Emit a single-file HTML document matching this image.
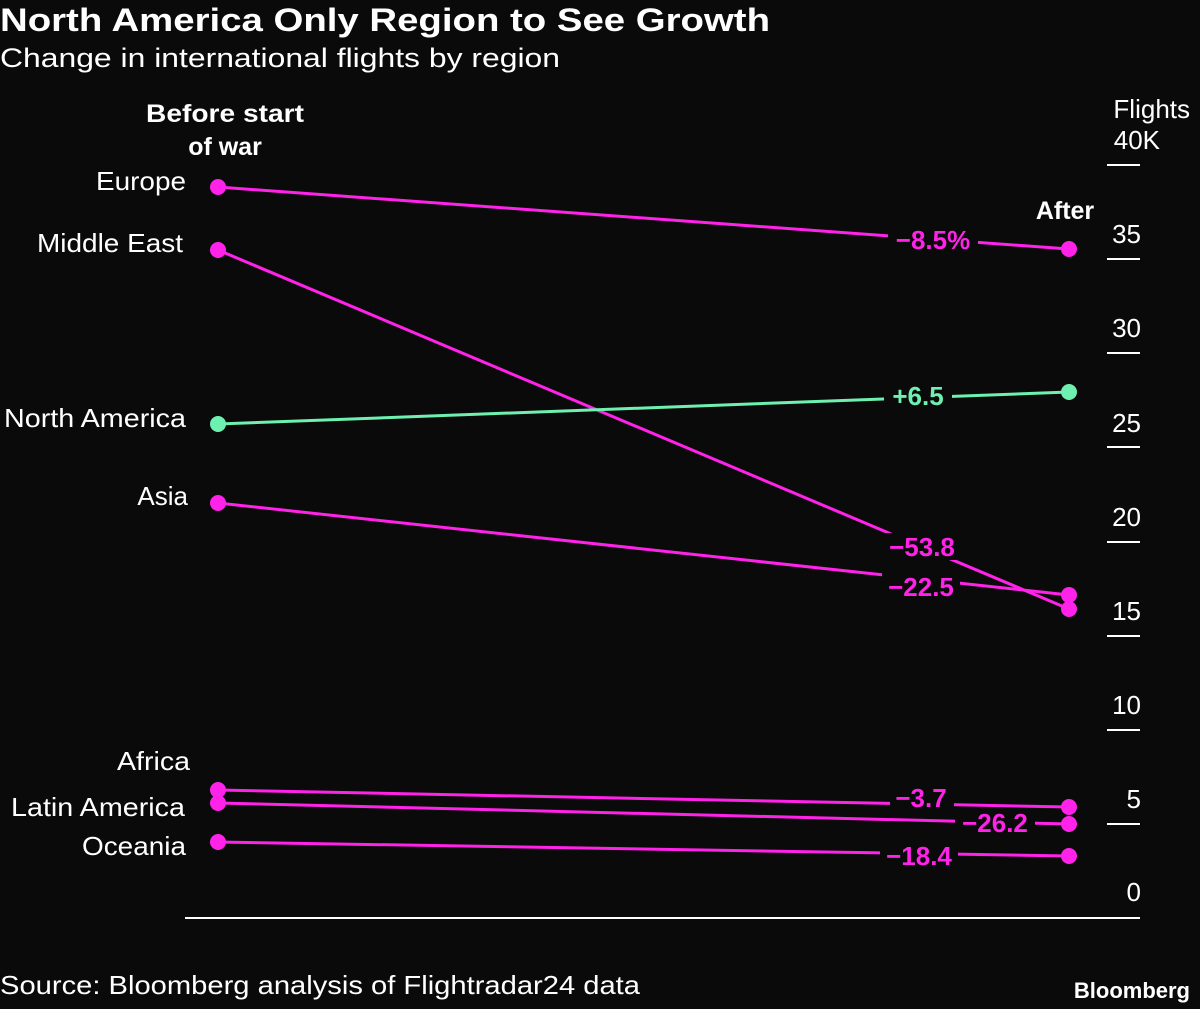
<!DOCTYPE html>
<html><head><meta charset="utf-8"><style>
html,body{margin:0;padding:0;background:#0a0a0a;}
svg{display:block;}
text{font-family:"Liberation Sans",sans-serif;}
</style></head><body>
<svg width="1200" height="1009" viewBox="0 0 1200 1009" xmlns="http://www.w3.org/2000/svg">
<rect width="1200" height="1009" fill="#0a0a0a"/>
<text x="0" y="31" fill="#fff" font-size="32" font-weight="bold" textLength="770" lengthAdjust="spacingAndGlyphs">North America Only Region to See Growth</text>
<text x="0" y="67" fill="#fff" font-size="27" textLength="560" lengthAdjust="spacingAndGlyphs">Change in international flights by region</text>
<text x="225" y="122" fill="#fff" font-size="25" font-weight="bold" text-anchor="middle" textLength="158" lengthAdjust="spacingAndGlyphs">Before start</text>
<text x="225" y="155" fill="#fff" font-size="25" font-weight="bold" text-anchor="middle">of war</text>
<text x="1065" y="219" fill="#fff" font-size="25" font-weight="bold" text-anchor="middle">After</text>
<text x="1190" y="118" fill="#fff" font-size="26" text-anchor="end">Flights</text>
<text x="1160" y="149" fill="#fff" font-size="26" text-anchor="end">40K</text>
<g stroke="#fff" stroke-width="2">
<line x1="1107" x2="1140" y1="165" y2="165"/>
<line x1="1107" x2="1140" y1="259" y2="259"/>
<line x1="1107" x2="1140" y1="353" y2="353"/>
<line x1="1107" x2="1140" y1="447" y2="447"/>
<line x1="1107" x2="1140" y1="542" y2="542"/>
<line x1="1107" x2="1140" y1="636" y2="636"/>
<line x1="1107" x2="1140" y1="730" y2="730"/>
<line x1="1107" x2="1140" y1="824" y2="824"/>
<line x1="185" x2="1140" y1="918" y2="918"/>
</g>
<g fill="#fff" font-size="26" text-anchor="end">
<text x="1141" y="243">35</text><text x="1141" y="337">30</text><text x="1141" y="432">25</text>
<text x="1141" y="526">20</text><text x="1141" y="620">15</text><text x="1141" y="714">10</text>
<text x="1141" y="808">5</text><text x="1141" y="901">0</text>
</g>
<g fill="#fff" font-size="26" text-anchor="end">
<text x="186" y="190" textLength="90" lengthAdjust="spacingAndGlyphs">Europe</text>
<text x="183" y="252" textLength="146" lengthAdjust="spacingAndGlyphs">Middle East</text>
<text x="186" y="427" textLength="182" lengthAdjust="spacingAndGlyphs">North America</text>
<text x="188" y="505">Asia</text>
<text x="190" y="770" textLength="73" lengthAdjust="spacingAndGlyphs">Africa</text>
<text x="185" y="816" textLength="174" lengthAdjust="spacingAndGlyphs">Latin America</text>
<text x="186" y="855" textLength="104" lengthAdjust="spacingAndGlyphs">Oceania</text>
</g>
<g stroke="#ff22e8" stroke-width="3" fill="#ff22e8">
<line x1="218" y1="187" x2="1069" y2="249"/>
<line x1="218" y1="250" x2="1069" y2="609"/>
<line x1="218" y1="503" x2="1069" y2="595"/>
<line x1="218" y1="790" x2="1069" y2="807"/>
<line x1="218" y1="803" x2="1069" y2="824"/>
<line x1="218" y1="842" x2="1069" y2="856"/>
<g stroke="none">
<circle cx="218" cy="187" r="8"/><circle cx="1069" cy="249" r="8"/>
<circle cx="218" cy="250" r="8"/><circle cx="1069" cy="609" r="8"/>
<circle cx="218" cy="503" r="8"/><circle cx="1069" cy="595" r="8"/>
<circle cx="218" cy="790" r="8"/><circle cx="1069" cy="807" r="8"/>
<circle cx="218" cy="803" r="8"/><circle cx="1069" cy="824" r="8"/>
<circle cx="218" cy="842" r="8"/><circle cx="1069" cy="856" r="8"/>
</g></g>
<g stroke="#6ef0b0" stroke-width="3" fill="#6ef0b0">
<line x1="218" y1="424" x2="1069" y2="392"/>
<circle cx="218" cy="424" r="8" stroke="none"/><circle cx="1069" cy="392" r="8" stroke="none"/>
</g>
<g font-size="26" font-weight="bold" text-anchor="middle">
<rect x="888" y="226" width="90" height="27" fill="#0a0a0a"/><text x="933" y="249" fill="#ff22e8">−8.5%</text>
<rect x="884" y="383" width="68" height="27" fill="#0a0a0a"/><text x="918" y="405" fill="#6ef0b0">+6.5</text>
<rect x="882" y="533" width="80" height="27" fill="#0a0a0a"/><text x="922" y="556" fill="#ff22e8">−53.8</text>
<rect x="882" y="573" width="78" height="27" fill="#0a0a0a"/><text x="921" y="596" fill="#ff22e8">−22.5</text>
<rect x="890" y="785" width="64" height="25" fill="#0a0a0a"/><text x="921" y="807" fill="#ff22e8">−3.7</text>
<rect x="955" y="810" width="80" height="27" fill="#0a0a0a"/><text x="995" y="832" fill="#ff22e8">−26.2</text>
<rect x="880" y="843" width="78" height="27" fill="#0a0a0a"/><text x="919" y="865" fill="#ff22e8">−18.4</text>
</g>
<text x="0" y="994" fill="#fff" font-size="26" textLength="640" lengthAdjust="spacingAndGlyphs">Source: Bloomberg analysis of Flightradar24 data</text>
<text x="1190" y="998" fill="#fff" font-size="22" font-weight="bold" text-anchor="end">Bloomberg</text>
</svg>
</body></html>
